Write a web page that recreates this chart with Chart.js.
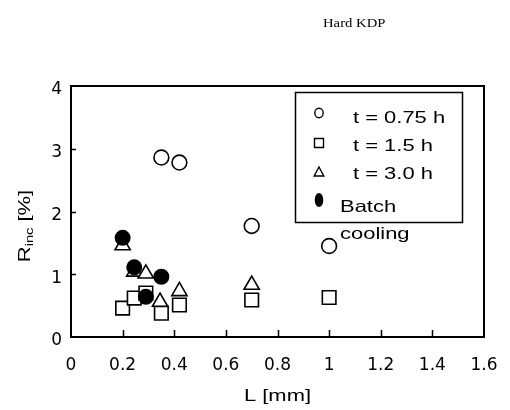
<!DOCTYPE html>
<html>
<head>
<meta charset="utf-8">
<script src="https://cdn.jsdelivr.net/npm/chart.js@4.4.1/dist/chart.umd.min.js"></script>
<style>
  html, body { margin: 0; padding: 0; background: #fff; }
  #wrap { width: 510px; height: 410px; position: relative; }
</style>
</head>
<body>
<div id="wrap"><canvas id="chart" width="510" height="410"></canvas></div>
<script>
// values
const xTickLabels = ['0', '0.2', '0.4', '0.6', '0.8', '1', '1.2', '1.4', '1.6'];
const yTickLabels = ['0', '1', '2', '3', '4'];

const circL = [0.35, 0.42, 0.70, 1.00];
const circR = [2.86, 2.78, 1.77, 1.45];

const sqL = [0.20, 0.245, 0.29, 0.35, 0.42, 0.70, 1.00];
const sqR = [0.46, 0.62, 0.70, 0.38, 0.51, 0.59, 0.63];

const triL = [0.20, 0.245, 0.29, 0.345, 0.42, 0.70];
const triR = [1.46, 1.04, 1.01, 0.56, 0.73, 0.83];

const batchL = [0.20, 0.245, 0.29, 0.35];
const batchR = [1.58, 1.11, 0.64, 0.96];

const seriesNames = ['t = 0.75 h', 't = 1.5 h', 't = 3.0 h', 'Batch'];

function pts(xs, ys) { return xs.map((x, i) => ({ x: x, y: ys[i] })); }

const SANS = 'Liberation Sans, Arial, sans-serif';
const TICKFONT = 'DejaVu Sans, sans-serif';
const STRETCH = 1.33; // the original text is drawn wide

// text drawn wider than the font, like the source image
function wideText(ctx, str, x, y, sx, align) {
  ctx.save();
  ctx.translate(x, y);
  ctx.scale(sx, 1);
  ctx.textAlign = align || 'left';
  ctx.fillText(str, 0, 0);
  ctx.restore();
}

// frame, inward ticks, axis titles, legend box, title
const decorPlugin = {
  id: 'decor',
  afterDraw(chart) {
    const ctx = chart.ctx;
    const a = chart.chartArea;
    const xs = chart.scales.x, ys = chart.scales.y;
    ctx.save();
    ctx.strokeStyle = '#000';
    ctx.lineWidth = 2;
    ctx.strokeRect(a.left, a.top, a.right - a.left, a.bottom - a.top);
    ctx.lineWidth = 1.5;
    ctx.beginPath();
    for (let i = 1; i < xTickLabels.length - 1; i++) {
      const px = Math.round(xs.getPixelForValue(i * 0.2)) + 0.5;
      ctx.moveTo(px, a.bottom); ctx.lineTo(px, a.bottom - 7);
    }
    for (let i = 1; i < yTickLabels.length - 1; i++) {
      const py = Math.round(ys.getPixelForValue(i)) + 0.5;
      ctx.moveTo(a.left, py); ctx.lineTo(a.left + 5, py);
    }
    ctx.stroke();

    // axis titles
    ctx.fillStyle = '#000';
    ctx.textBaseline = 'alphabetic';
    ctx.font = '16.5px ' + SANS;
    wideText(ctx, 'L [mm]', (a.left + a.right) / 2, 401, STRETCH, 'center');

    ctx.save();
    ctx.translate(30, 226);
    ctx.rotate(-Math.PI / 2);
    ctx.scale(STRETCH, 1);
    ctx.textAlign = 'left';
    ctx.font = '16.5px ' + SANS;
    const w1 = ctx.measureText('R').width;
    const w3 = ctx.measureText(' [%]').width;
    ctx.font = '11px ' + SANS;
    const w2 = ctx.measureText('inc').width;
    const sx = -(w1 + w2 + w3) / 2;
    ctx.font = '16.5px ' + SANS;
    ctx.fillText('R', sx, 0);
    ctx.fillText(' [%]', sx + w1 + w2, 0);
    ctx.font = '11px ' + SANS;
    ctx.fillText('inc', sx + w1, 3);
    ctx.restore();

    // title
    ctx.font = '13px Liberation Serif, Times New Roman, serif';
    wideText(ctx, 'Hard KDP', 323, 27, 1.13, 'left');

    // legend
    ctx.lineWidth = 1.5;
    ctx.strokeRect(295.5, 92.5, 167, 130);
    const symX = 319;
    ctx.lineWidth = 1.4;
    ctx.strokeStyle = '#000';
    ctx.fillStyle = '#fff';
    ctx.beginPath();
    ctx.ellipse(symX, 113, 4.2, 4.8, 0, 0, Math.PI * 2);
    ctx.fill(); ctx.stroke();
    ctx.beginPath();
    ctx.rect(symX - 4.5, 138.5, 9, 9);
    ctx.fill(); ctx.stroke();
    ctx.beginPath();
    ctx.moveTo(symX, 167); ctx.lineTo(symX + 4.8, 176); ctx.lineTo(symX - 4.8, 176); ctx.closePath();
    ctx.fill(); ctx.stroke();
    ctx.fillStyle = '#000';
    ctx.beginPath();
    ctx.ellipse(symX, 200, 4.3, 7, 0, 0, Math.PI * 2);
    ctx.fill();

    ctx.font = '16.5px ' + SANS;
    const rowsY = [123, 151, 179];
    for (let i = 0; i < 3; i++) wideText(ctx, seriesNames[i], 353, rowsY[i], STRETCH, 'left');
    wideText(ctx, seriesNames[3], 340, 212, STRETCH, 'left');
    wideText(ctx, 'cooling', 340, 239, STRETCH, 'left');
    ctx.restore();
  }
};

function ds(label, xs, ys, style, fill, r, order) {
  return {
    label: label,
    data: pts(xs, ys),
    pointStyle: style,
    pointRadius: r,
    pointHoverRadius: r,
    pointBorderWidth: 1.6,
    borderColor: '#000',
    backgroundColor: fill,
    showLine: false,
    order: order
  };
}

new Chart(document.getElementById('chart'), {
  type: 'scatter',
  data: {
    datasets: [
      ds(seriesNames[0], circL, circR, 'circle', '#fff', 7.4, 3),
      ds(seriesNames[1], sqL, sqR, 'rect', '#fff', 9.6, 2),
      ds(seriesNames[2], triL, triR, 'triangle', '#fff', 8.8, 1),
      ds(seriesNames[3] + ' cooling', batchL, batchR, 'circle', '#000', 7.2, 0)
    ]
  },
  options: {
    responsive: false,
    animation: false,
    events: [],
    layout: { padding: { top: 86, right: 26, left: 0, bottom: 0 } },
    plugins: { legend: { display: false }, tooltip: { enabled: false } },
    scales: {
      x: {
        type: 'linear', min: 0, max: 1.6,
        afterFit(s) { s.height = 73; s.paddingLeft = 0; s.paddingRight = 0; },
        afterBuildTicks(s) { s.ticks = xTickLabels.map((t, i) => ({ value: i * 0.2 })); },
        ticks: {
          padding: 18, color: '#000', maxRotation: 0, autoSkip: false,
          font: { family: TICKFONT, size: 17 },
          callback: (v, i) => xTickLabels[i]
        },
        grid: { display: false, drawTicks: false },
        border: { display: false }
      },
      y: {
        type: 'linear', min: 0, max: 4,
        afterFit(s) { s.width = 71; },
        afterBuildTicks(s) { s.ticks = yTickLabels.map((t, i) => ({ value: i })); },
        ticks: {
          padding: 9, color: '#000', labelOffset: 4,
          font: { family: TICKFONT, size: 17 },
          callback: (v, i) => yTickLabels[i]
        },
        grid: { display: false, drawTicks: false },
        border: { display: false }
      }
    }
  },
  plugins: [decorPlugin]
});
</script>
</body>
</html>
